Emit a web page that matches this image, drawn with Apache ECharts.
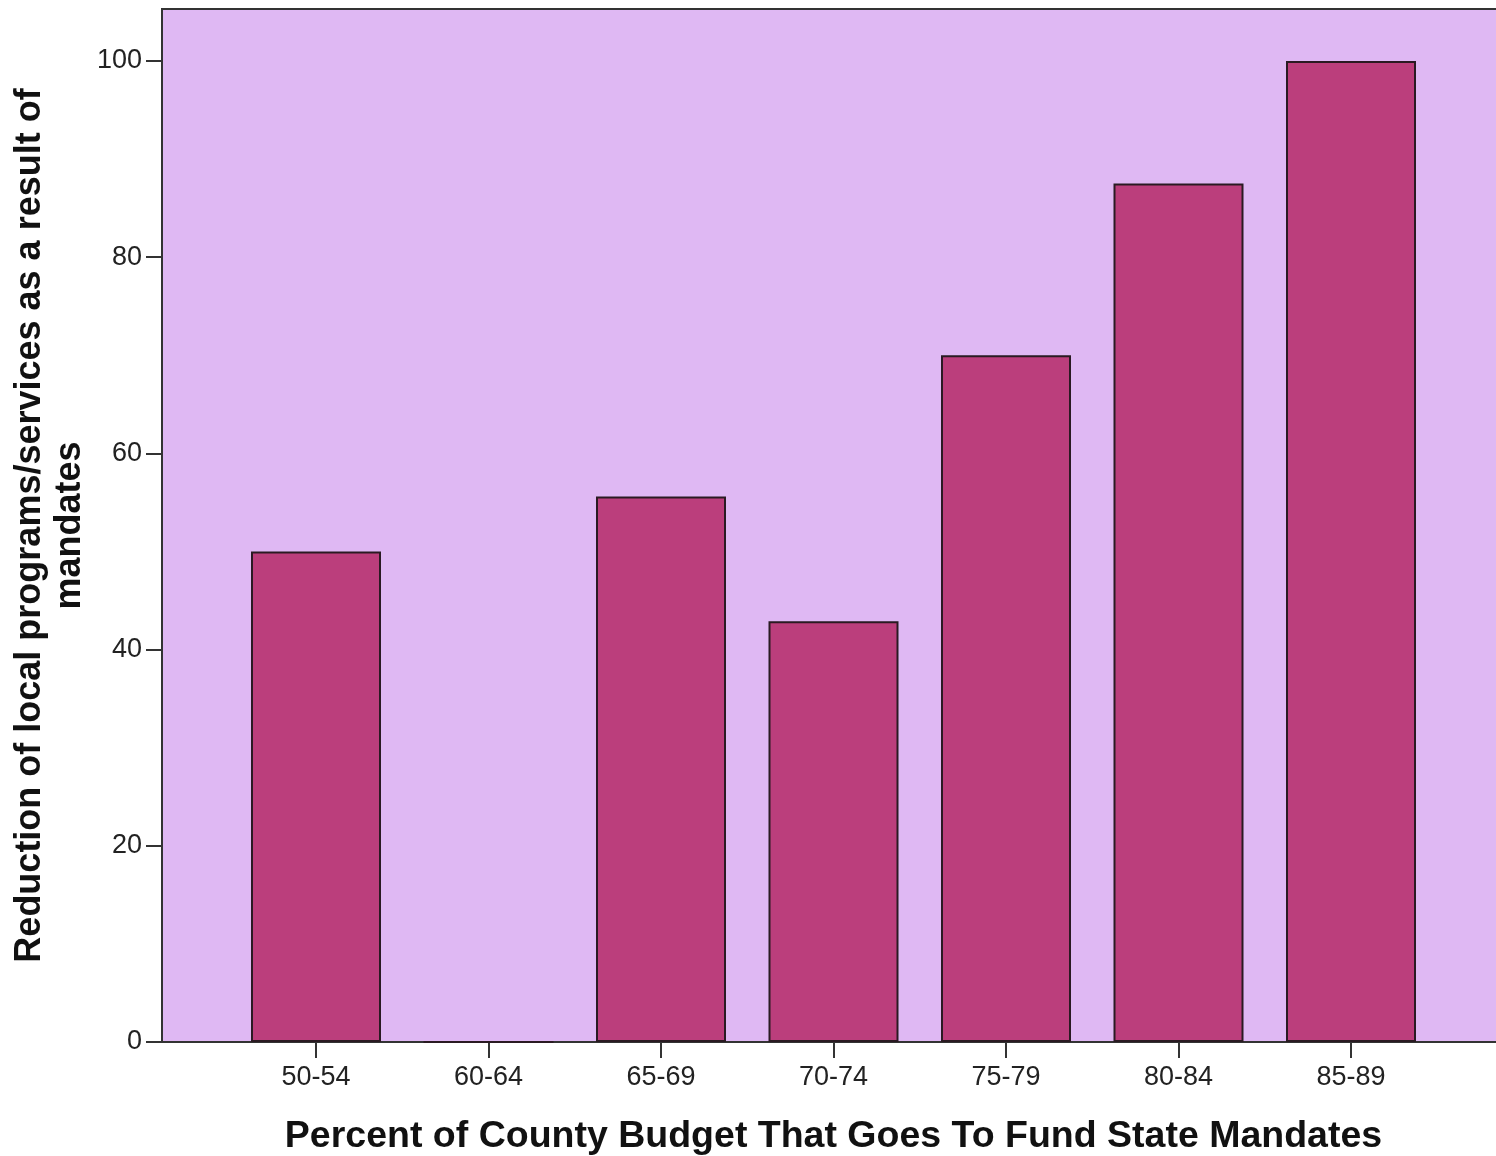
<!DOCTYPE html>
<html>
<head>
<meta charset="utf-8">
<script src="https://cdn.jsdelivr.net/npm/echarts@6/dist/echarts.min.js"></script>
<style>
html,body{margin:0;padding:0;background:#fff;}
#chart{width:1496px;height:1156px;}
</style>
</head>
<body>
<div id="chart"></div>
<script>
const categories = ["50-54", "60-64", "65-69", "70-74", "75-79", "80-84", "85-89"];
const values = [50, 0, 55.6, 42.9, 70, 87.5, 100];
const yTicks = [0, 20, 40, 60, 80, 100];
const xTitle = "Percent of County Budget That Goes To Fund State Mandates";
const yTitle = "Reduction of local programs/services as a result of\nmandates";

const FONT = "Liberation Sans, Arial, sans-serif";
const chart = echarts.init(document.getElementById('chart'));
const yMax = 105.3;
const option = {
  animation: false,
  grid: [
    {left: 162, top: 9, right: -20, bottom: 114, outerBoundsMode: 'none', containLabel: false,
     show: true, backgroundColor: '#dfb8f3', borderColor: '#333', borderWidth: 2},
    {left: 229.75, top: 9, width: 1207.5, bottom: 114, outerBoundsMode: 'none', containLabel: false}
  ],
  xAxis: [
    {gridIndex: 0, type: 'value', min: 0, max: 1, show: false},
    {gridIndex: 1, type: 'category', data: categories,
     axisLine: {show: false},
     axisTick: {show: true, alignWithLabel: true, length: 16, lineStyle: {color: '#333', width: 2}},
     axisLabel: {fontFamily: FONT, fontSize: 27, color: '#222', margin: 22},
     name: xTitle, nameLocation: 'middle', nameGap: 76, nameMoveOverlap: false,
     nameTextStyle: {fontFamily: FONT, fontSize: 37.5, fontWeight: 'bold', color: '#111'}}
  ],
  yAxis: [
    {gridIndex: 0, type: 'value', min: 0, max: yMax,
     axisLine: {show: true, lineStyle: {color: '#333', width: 2}},
     axisTick: {show: true, length: 16, lineStyle: {color: '#333', width: 2},
       customValues: yTicks},
     axisLabel: {fontFamily: FONT, fontSize: 27, color: '#222', margin: 20,
       customValues: yTicks},
     splitLine: {show: false},
     name: yTitle, nameLocation: 'middle', nameGap: 72, nameRotate: 90, nameMoveOverlap: false,
     nameTextStyle: {fontFamily: FONT, fontSize: 36, fontWeight: 'bold', color: '#111', lineHeight: 40, align: 'center'}},
    {gridIndex: 1, type: 'value', min: 0, max: yMax, show: false}
  ],
  series: [{
    type: 'bar', xAxisIndex: 1, yAxisIndex: 1,
    data: values, barWidth: 130,
    itemStyle: {color: '#bb3e7c', borderColor: '#2a1a22', borderWidth: 2}
  }]
};
chart.setOption(option);
</script>
</body>
</html>
